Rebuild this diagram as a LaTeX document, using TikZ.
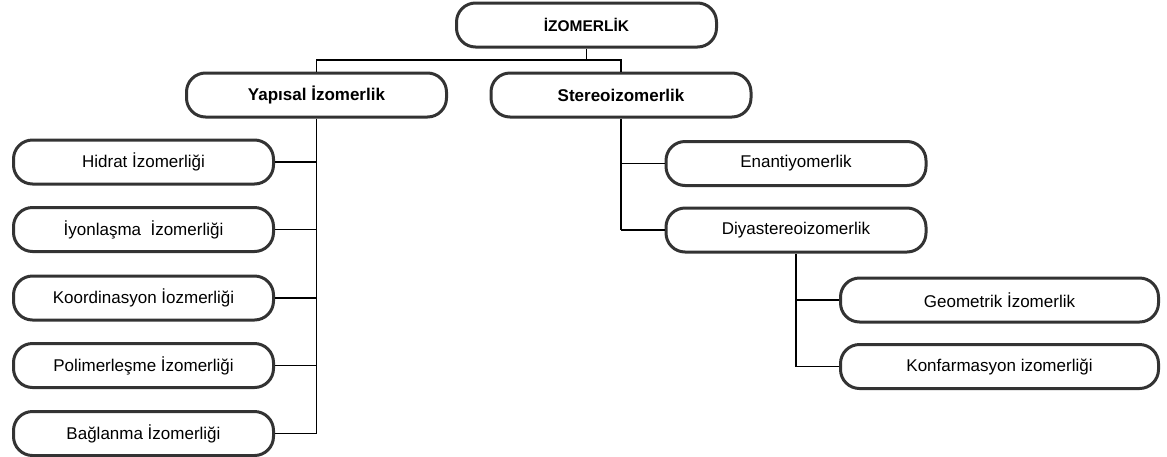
\documentclass[tikz,border=0pt]{standalone}
\usepackage{fontspec}
\setmainfont{Liberation Sans}
\definecolor{boxline}{HTML}{333333}
\tikzset{
  box/.style={draw=boxline, line width=3pt, fill=white, rectangle, rounded corners=19pt,
    minimum width=260pt, minimum height=44pt, inner sep=0pt, align=center,
    font=\fontsize{17}{20}\selectfont},
  boldbox/.style={box, font=\fontsize{17}{20}\selectfont\bfseries},
  conn/.style={draw=black, line width=1.3pt}
}
\begin{document}
\begin{tikzpicture}[x=1pt,y=-1pt]
\useasboundingbox (0,0) rectangle (1167,456);
\coordinate (bus) at (586.5,60);
% nodes
\node[boldbox, font=\fontsize{15.5}{18}\selectfont\bfseries] (top) at (586.5,25) {İZOMERLİK};
\node[boldbox] (yap) at (316.5,95) {Yapısal İzomerlik};
\node[boldbox] (ste) at (621,95) {Stereoizomerlik};
\node[box] (c1) at (143.5,162) {Hidrat İzomerliği};
\node[box] (c2) at (143.5,229.5) {İyonlaşma\ \ İzomerliği};
\node[box] (c3) at (143.5,298) {Koordinasyon İozmerliği};
\node[box] (c4) at (143.5,365.5) {Polimerleşme İzomerliği};
\node[box] (c5) at (143.5,433.5) {Bağlanma İzomerliği};
\node[box] (d1) at (796,163.5) {Enantiyomerlik};
\node[box] (d2) at (796,230) {Diyastereoizomerlik};
\node[box, minimum width=318pt] (g1) at (999.5,300) {Geometrik İzomerlik};
\node[box, minimum width=318pt] (g2) at (999.5,366.5) {Konfarmasyon izomerliği};
% connectors
\draw[conn] (top.south) -- (bus);
\draw[conn] (yap.north) -- (yap.north |- bus) -- (ste.north |- bus) -- (ste.north);
\draw[conn] (yap.south) -- (yap.south |- c5.east);
\foreach \n in {c1,c2,c3,c4,c5} \draw[conn] (\n.east) -- (\n.east -| yap.south);
\draw[conn] (ste.south) -- (ste.south |- d2.west);
\foreach \n in {d1,d2} \draw[conn] (\n.west) -- (\n.west -| ste.south);
\draw[conn] (d2.south) -- (d2.south |- g2.west);
\foreach \n in {g1,g2} \draw[conn] (\n.west) -- (\n.west -| d2.south);
\end{tikzpicture}
\end{document}
